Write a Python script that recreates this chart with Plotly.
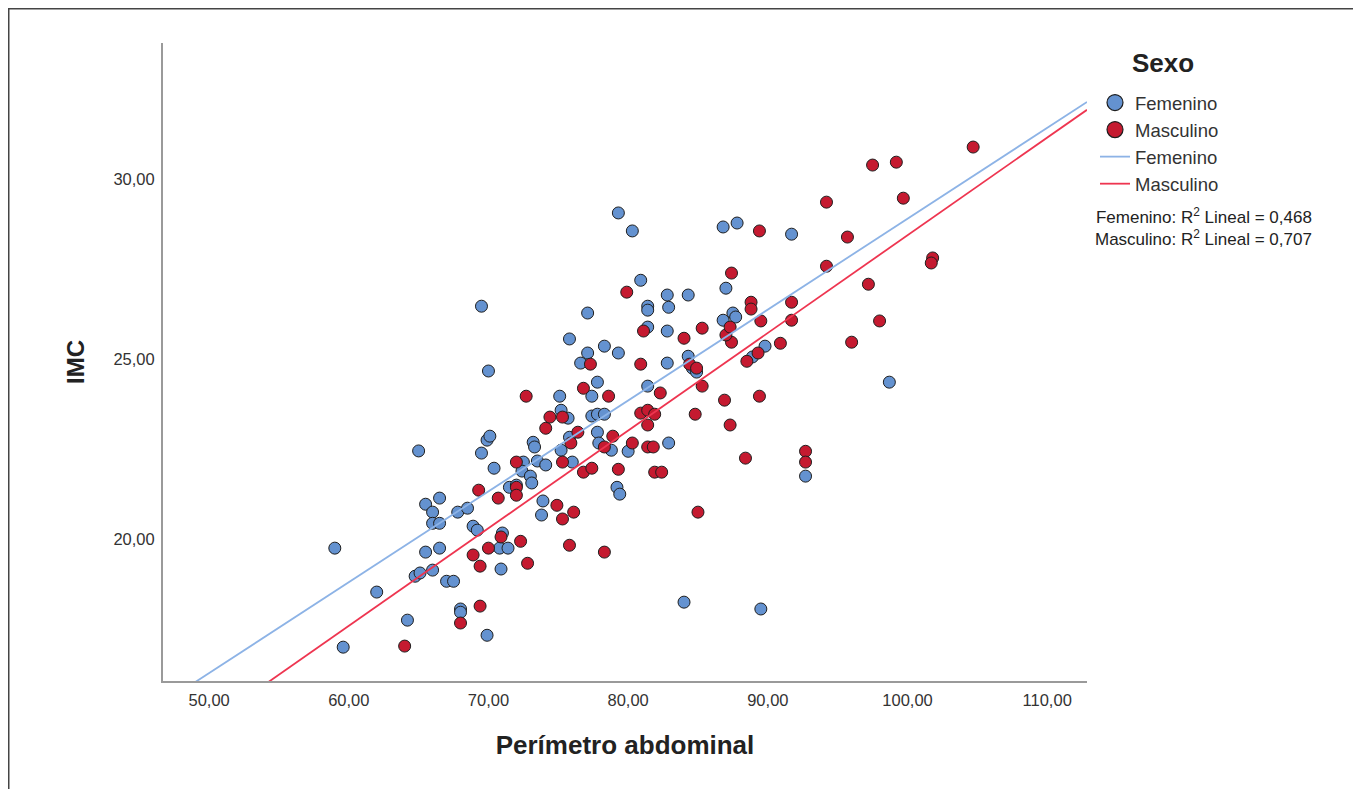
import plotly.graph_objects as go
import numpy as np

# ---- data ----
fem_perimetro = [59.0, 59.6, 62.0, 64.2, 65.0, 65.5, 66.0, 66.5, 66.0, 66.5, 65.5, 66.5, 64.75, 65.1, 66.0,
                 67.0, 67.5, 68.0, 68.0, 67.8, 68.5, 68.9, 69.2, 69.5, 69.5, 70.0, 69.9, 70.1, 69.9, 70.4,
                 70.9, 70.8, 71.4, 71.0, 71.5, 72.0, 72.5, 72.4, 73.0, 73.1, 73.2, 73.3, 73.5, 74.1, 73.9,
                 73.8, 75.1, 75.2, 75.7, 75.8, 75.8, 76.0, 76.6, 77.1, 77.1, 77.4, 77.8, 77.4, 77.8, 78.3,
                 78.3, 77.8, 77.9, 78.8, 79.2, 79.4, 79.3, 79.3, 80.0, 80.3, 80.9, 81.4, 81.4, 81.4, 81.4,
                 82.8, 82.9, 82.8, 82.8, 82.9, 84.0, 84.3, 84.3, 84.6, 84.9, 86.8, 87.8, 87.0, 87.5, 87.7,
                 86.8, 89.8, 88.9, 91.7, 89.5, 92.7, 98.7, 75.2]
fem_imc = [19.75, 17.0, 18.53, 17.75, 22.45, 20.97, 20.75, 21.14, 20.44, 20.44, 19.64, 19.75, 18.97, 19.06, 19.14,
           18.83, 18.83, 18.06, 17.97, 20.75, 20.86, 20.36, 20.25, 26.47, 22.39, 24.67, 22.75, 22.86, 17.33, 21.97,
           19.17, 19.75, 19.75, 20.17, 21.44, 21.5, 22.14, 21.89, 21.75, 21.56, 22.69, 22.56, 22.17, 22.06, 21.06,
           20.67, 23.97, 23.58, 23.36, 25.56, 22.83, 22.14, 24.89, 26.28, 25.17, 23.97, 24.36, 23.42, 23.47, 23.47,
           25.36, 22.97, 22.67, 22.47, 21.44, 21.25, 29.06, 25.17, 22.44, 28.56, 27.19, 26.47, 26.36, 24.25, 25.89,
           26.78, 26.44, 25.78, 24.89, 22.67, 18.25, 26.78, 25.08, 24.75, 24.64, 28.67, 28.78, 26.97, 26.28, 26.17,
           26.08, 25.36, 25.06, 28.47, 18.06, 21.75, 24.36, 22.47]

mas_perimetro = [64.0, 68.0, 69.4, 69.3, 68.9, 69.4, 70.0, 70.9, 70.7, 72.0, 72.0, 72.0, 72.3, 72.8, 72.7,
                 74.1, 74.4, 74.9, 75.3, 75.3, 75.3, 76.1, 75.8, 76.4, 76.8, 76.8, 77.4, 77.3, 78.3, 78.3,
                 78.6, 78.9, 79.3, 80.3, 79.9, 80.9, 81.4, 81.9, 81.4, 81.4, 81.8, 81.9, 82.4, 81.1, 80.9,
                 82.3, 84.0, 84.4, 84.9, 84.8, 85.0, 85.3, 85.3, 86.9, 87.4, 87.0, 87.3, 87.4, 87.3, 88.4,
                 88.5, 88.8, 88.8, 89.3, 89.4, 89.5, 89.4, 90.9, 91.7, 91.7, 92.7, 92.7, 94.2, 94.2, 95.7,
                 96.0, 97.2, 97.5, 98.0, 99.2, 99.7, 101.8, 101.7, 104.7, 75.9]
mas_imc = [17.03, 17.67, 18.14, 21.36, 19.56, 19.25, 19.75, 20.06, 21.14, 22.14, 21.44, 21.22, 19.94, 19.33, 23.97,
           23.08, 23.39, 20.94, 20.56, 22.14, 23.39, 20.75, 19.83, 22.97, 24.19, 21.86, 21.97, 24.86, 19.64, 22.56,
           23.97, 22.86, 21.94, 22.67, 26.86, 23.5, 23.58, 23.47, 23.17, 22.56, 22.56, 21.86, 21.86, 25.78, 24.86,
           24.06, 25.58, 24.86, 24.75, 23.47, 20.75, 24.25, 25.86, 23.86, 25.47, 25.67, 25.89, 27.39, 23.17, 22.25,
           24.94, 26.58, 26.39, 25.17, 28.56, 26.06, 23.97, 25.44, 26.58, 26.08, 22.44, 22.14, 29.36, 27.58, 28.39,
           25.47, 27.08, 30.39, 26.06, 30.47, 29.47, 27.81, 27.67, 30.89, 22.67]

sexo = ["Femenino", "Masculino"]
legend_title = "Sexo"
fit_intercept = [3.66, 1.32]
fit_slope = [0.2524, 0.2712]
r2_text = ["0,468", "0,707"]

x_ticks = [50, 60, 70, 80, 90, 100, 110]
y_ticks = [20, 25, 30]
x_range = [46.7, 112.85]
y_range = [16.06, 33.78]

# ---- styles ----
point_colors = ["#6492D0", "#C51A30"]
line_colors = ["#8DB3E6", "#EE3550"]
FONT = "Arial, 'Liberation Sans', sans-serif"

# page body adds an 8px offset; positions below are in screen pixels
OFF = 8
W, H = 1353, 781
L, R, T, B = 155, 274, 35, 108
pw, ph = W - L - R, H - T - B


def px_x(p):
    return (p - OFF - L) / pw


def px_y(p):
    return (H - B - (p - OFF)) / ph


fig = go.Figure()
series = [(fem_perimetro, fem_imc), (mas_perimetro, mas_imc)]

for (xs, ys), name, col in zip(series, sexo, point_colors):
    fig.add_trace(go.Scatter(
        x=xs, y=ys, mode="markers", name=name, showlegend=False,
        marker=dict(size=12, color=col, line=dict(color="#1E1E1E", width=1)),
        hoverinfo="x+y+name"))

# legend entries for the point series (larger symbols like the reference)
for name, col in zip(sexo, point_colors):
    fig.add_trace(go.Scatter(
        x=[None], y=[None], mode="markers", name=name,
        marker=dict(size=16, color=col, line=dict(color="#1E1E1E", width=1.2))))

# fit lines
lx = np.array(x_range)
for a, b, name, col in zip(fit_intercept, fit_slope, sexo, line_colors):
    fig.add_trace(go.Scatter(
        x=lx, y=a + b * lx, mode="lines", name=name,
        line=dict(color=col, width=1.8), hoverinfo="skip"))

axis_common = dict(showgrid=False, zeroline=False, showline=True, linecolor="#9A9A9A",
                   linewidth=2, ticks="", tickformat=".2f",
                   tickfont=dict(family=FONT, size=16.5, color="#333333"))

fig.update_layout(
    width=W, height=H,
    margin=dict(l=L, r=R, t=T, b=B),
    paper_bgcolor="white", plot_bgcolor="white",
    separators=",.",
    font=dict(family=FONT, color="#222222"),
    xaxis=dict(range=x_range, tickvals=x_ticks, ticklabelstandoff=3,
               title=dict(text="<b>Perímetro abdominal</b>", standoff=28,
                          font=dict(family=FONT, size=26, color="#222222")),
               **axis_common),
    yaxis=dict(range=y_range, tickvals=y_ticks, ticklabelstandoff=3,
               title=dict(text="<b>IMC</b>", standoff=22,
                          font=dict(family=FONT, size=24, color="#222222")),
               **axis_common),
    legend=dict(
        x=px_x(1095), xanchor="left", y=px_y(84), yanchor="top",
        font=dict(family=FONT, size=18.5, color="#333333"),
        tracegroupgap=0, bgcolor="rgba(0,0,0,0)", itemwidth=30),
    showlegend=True,
)

fig.add_annotation(
    xref="paper", yref="paper", x=px_x(1163), y=px_y(63), xanchor="center", yanchor="middle",
    text="<b>" + legend_title + "</b>", showarrow=False,
    font=dict(family=FONT, size=26, color="#222222"))

fig.add_annotation(
    xref="paper", yref="paper", x=px_x(1314), y=px_y(227), xanchor="right", yanchor="middle",
    text="Femenino: R<sup>2</sup> Lineal = " + r2_text[0] + "<br>Masculino: R<sup>2</sup> Lineal = " + r2_text[1],
    showarrow=False, align="right", font=dict(family=FONT, size=17, color="#222222"))

# outer frame (left and top edges visible in the reference)
fig.add_shape(type="line", xref="paper", yref="paper", x0=px_x(8.75), x1=px_x(8.75), y0=px_y(8), y1=px_y(800),
              line=dict(color="#444444", width=1.5))
fig.add_shape(type="line", xref="paper", yref="paper", x0=px_x(8), x1=px_x(1370), y0=px_y(8.75), y1=px_y(8.75),
              line=dict(color="#444444", width=1.5))

fig.write_html("out.html")
